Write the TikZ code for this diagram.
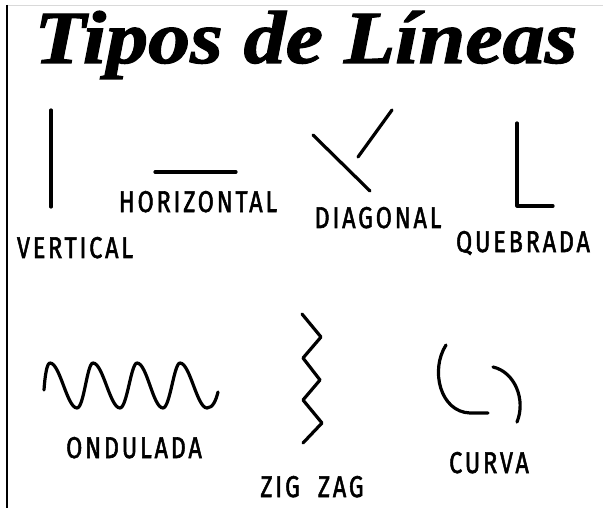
\documentclass[tikz,border=0pt]{standalone}
\usepackage{fontspec}
\usepackage{tikz}
\newfontfamily\titlefont[FakeBold=1.5]{Liberation Serif}
\newfontfamily\labelfont[LetterSpace=12,FakeBold=2]{Fira Sans}
\tikzset{
  linea/.style={black, line width=3.2pt, line cap=round, line join=round},
  etiqueta/.style={anchor=base, inner sep=0pt, xscale=0.78, font=\labelfont\fontsize{30}{30}\selectfont}
}

\begin{document}
\begin{tikzpicture}[x=1pt,y=-1pt]
\useasboundingbox[fill=white] (0,0) rectangle (603,508);
\draw[black!15, line width=0.8pt] (7,5) -- (603,5);
\draw[black, line width=1.5pt] (7,5) -- (7,508);
\node[anchor=base, inner sep=0pt, xscale=1.12, font=\titlefont\bfseries\itshape\fontsize{75}{75}\selectfont] (titulo) at (306,63) {Tipos de Líneas};
\draw[linea] (51,110) -- (51,207);
\node[etiqueta] (vertical) at (75,258) {VERTICAL};
\draw[linea] (155,172) -- (236,172);
\node[etiqueta] (horizontal) at (198,212) {HORIZONTAL};
\draw[linea] (313,135) -- (370,191);
\draw[linea] (358,157) -- (392,110);
\node[etiqueta] (diagonal) at (378,228) {DIAGONAL};
\draw[linea] (517,123) -- (517,206) -- (553,206);
\node[etiqueta] (quebrada) at (523,252) {QUEBRADA};
\draw[linea] (44,390) .. controls (45,375) and (47,363) .. (50,363)
  .. controls (60,363) and (67,408) .. (77,408)
  .. controls (84,408) and (87,363) .. (93,363)
  .. controls (103,363) and (110,408) .. (120,408)
  .. controls (127,408) and (131,363) .. (137,363)
  .. controls (147,363) and (153,408) .. (163,408)
  .. controls (170,408) and (174,363) .. (180,363)
  .. controls (190,363) and (197,408) .. (207,408)
  .. controls (213,408) and (216,400) .. (218,392);
\node[etiqueta] (ondulada) at (134,458) {ONDULADA};
\draw[linea] (302,314) -- (321,337) -- (303,358) -- (320,380) -- (303,400) -- (322,423) -- (303,443);
\node[etiqueta] (zigzag) at (312,497) {ZIG\ \ ZAG};
\draw[linea] (446,345) .. controls (430,370) and (440,412) .. (470,413) -- (488,413);
\draw[linea] (493,367) .. controls (515,372) and (526,400) .. (517,422);
\node[etiqueta] (curva) at (489,473) {CURVA};
\end{tikzpicture}
\end{document}
